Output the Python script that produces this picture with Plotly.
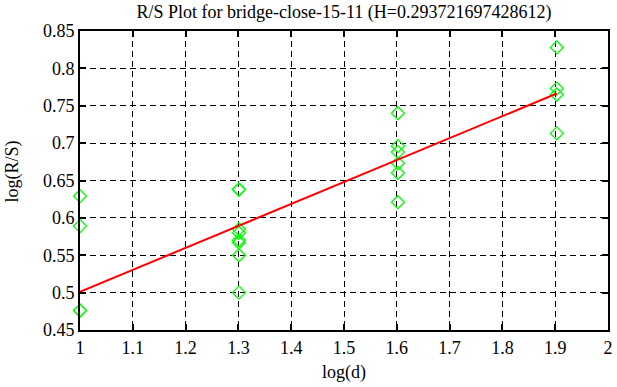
import plotly.graph_objects as go

title_text = "R/S Plot for bridge-close-15-11 (H=0.293721697428612)"
x_title = "log(d)"
y_title = "log(R/S)"
x_pts = [1, 1, 1, 1,
         1.30103, 1.30103, 1.30103, 1.30103, 1.30103, 1.30103, 1.30103, 1.30103,
         1.60206, 1.60206, 1.60206, 1.60206, 1.60206, 1.60206,
         1.90309, 1.90309, 1.90309, 1.90309]
y_pts = [0.629, 0.589, 0.476, 0.476,
         0.638, 0.638, 0.585, 0.580, 0.570, 0.567, 0.550, 0.500,
         0.740, 0.696, 0.688, 0.673, 0.660, 0.621,
         0.828, 0.773, 0.765, 0.713]
fit_x = [1, 1.90309]
fit_y = [0.5011, 0.7664]

fig = go.Figure()
fig.add_trace(go.Scatter(x=x_pts, y=y_pts, mode="markers", cliponaxis=False,
                         marker=dict(symbol="diamond-open", size=10, color="#00ff00",
                                     line=dict(width=1.3, color="#00ff00")),
                         showlegend=False))
fig.add_trace(go.Scatter(x=fit_x, y=fit_y, mode="lines",
                         line=dict(color="#ff0000", width=2), showlegend=False))

serif = "Liberation Serif, Times New Roman, Times, serif"
def f():
    return dict(family=serif, size=18, color="black")

axis_common = dict(showline=True, linecolor="black", linewidth=2, mirror="ticks",
                   ticks="inside", ticklen=6, tickcolor="black", tickwidth=2,
                   showgrid=True, gridcolor="black", gridwidth=1, griddash="6px,4px",
                   zeroline=False, automargin=False, ticklabeloverflow="allow")
fig.update_layout(
    width=617, height=387,
    margin=dict(l=80, r=9, t=31, b=57),
    paper_bgcolor="white", plot_bgcolor="white",
    font=f(),
    title=dict(text=title_text, x=0.5, xref="paper", xanchor="center",
               y=0.969, yanchor="middle", font=f()),
    xaxis=dict(range=[1, 2], dtick=0.1, tickformat="~g", tickfont=f(), **axis_common),
    yaxis=dict(range=[0.45, 0.85], dtick=0.05, tickformat="~g", tickfont=f(), **axis_common),
    annotations=[
        dict(text=x_title, xref="paper", yref="paper", x=0.5, y=0, xanchor="center",
             yanchor="middle", yshift=-42, showarrow=False, font=f()),
        dict(text=y_title, xref="paper", yref="paper", x=0, y=0.53, xanchor="center",
             yanchor="middle", xshift=-67, textangle=-90, showarrow=False, font=f()),
    ],
)
fig.write_html("out.html", config={"displayModeBar": False},
               post_script="document.body.style.margin='0';")
